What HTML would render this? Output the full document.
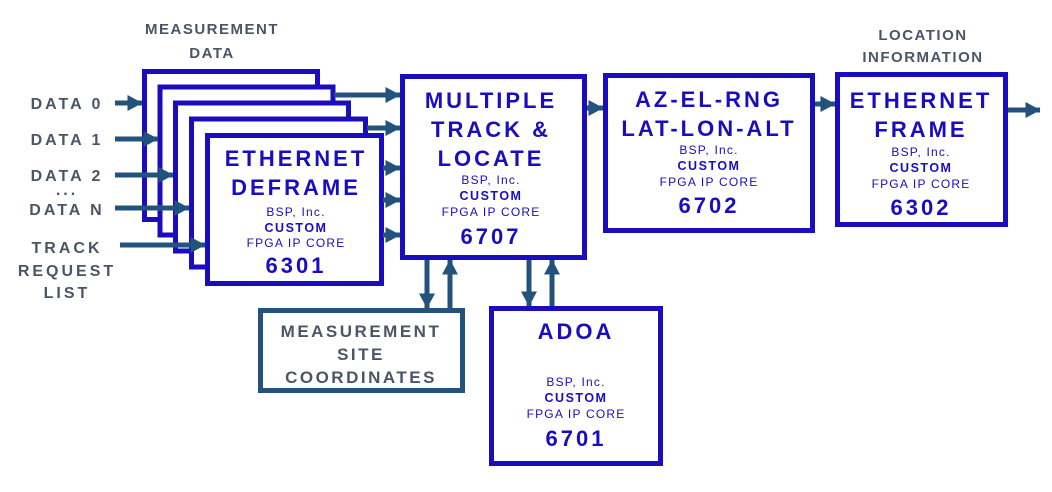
<!DOCTYPE html>
<html><head><meta charset="utf-8"><style>
html,body{margin:0;padding:0;background:#fff;}
text{font-family:"Liberation Sans",sans-serif;}
.g{fill:#4a5566;font-weight:bold;font-size:16px;letter-spacing:3px;}
.h{fill:#4a5566;font-weight:bold;font-size:15px;letter-spacing:1.5px;}
.m{fill:#4a5566;font-weight:bold;font-size:17px;letter-spacing:2.5px;}
.t{fill:#1a0dbf;font-weight:bold;font-size:22px;letter-spacing:3px;}
.s{fill:#1a0dbf;font-size:12px;letter-spacing:1.2px;}
.c{fill:#1a0dbf;font-weight:bold;font-size:12.5px;letter-spacing:1.5px;}
.n{fill:#1a0dbf;font-weight:bold;font-size:22px;letter-spacing:3px;}
</style></head><body>
<svg width="1052" height="487" viewBox="0 0 1052 487" xmlns="http://www.w3.org/2000/svg">
<defs><marker id="a" viewBox="0 0 15 16" markerWidth="15" markerHeight="16" refX="14.5" refY="8" orient="auto" markerUnits="userSpaceOnUse"><path d="M0,0 L15,8 L0,16z" fill="#23527c"/></marker></defs>
<g fill="#fff" stroke="#1a0dbf" stroke-width="5">
<rect x="144.5" y="71.5" width="173" height="148"/>
<rect x="160" y="87" width="173" height="148"/>
<rect x="175.5" y="103" width="173" height="148"/>
<rect x="191.5" y="119" width="174" height="148"/>
<rect x="207.5" y="135.5" width="174" height="148"/>
<rect x="402.5" y="76.5" width="182" height="181"/>
<rect x="605.5" y="75.5" width="207" height="155"/>
<rect x="837.5" y="74.5" width="168" height="150"/>
<rect x="491.5" y="308.5" width="169" height="155"/>
</g>
<rect x="260.5" y="310.5" width="202" height="80" fill="#fff" stroke="#23527c" stroke-width="5"/>
<g stroke="#23527c" stroke-width="5" marker-end="url(#a)" fill="none">
<line x1="115" y1="103" x2="142" y2="103"/>
<line x1="115" y1="139" x2="158" y2="139"/>
<line x1="115" y1="175" x2="173" y2="175"/>
<line x1="115" y1="208" x2="189" y2="208"/>
<line x1="120" y1="245" x2="205" y2="245"/>
<line x1="334" y1="95" x2="400" y2="95"/>
<line x1="367" y1="128" x2="400" y2="128"/>
<line x1="383" y1="168" x2="400" y2="168"/>
<line x1="383" y1="200" x2="400" y2="200"/>
<line x1="383" y1="235" x2="400" y2="235"/>
<line x1="587" y1="108" x2="603" y2="108"/>
<line x1="815" y1="104" x2="835" y2="104"/>
<line x1="1008" y1="110" x2="1040" y2="110"/>
<line x1="427" y1="260" x2="427" y2="308"/>
<line x1="450" y1="308" x2="450" y2="260"/>
<line x1="529" y1="260" x2="529" y2="306"/>
<line x1="552" y1="306" x2="552" y2="260"/>
</g>
<g text-anchor="middle">
<text class="h" x="212" y="34">MEASUREMENT</text><text class="h" x="212" y="58">DATA</text>
<text class="h" x="923" y="40">LOCATION</text><text class="h" x="923" y="62">INFORMATION</text>
<text class="g" x="67" y="109">DATA 0</text><text class="g" x="67" y="145">DATA 1</text>
<text class="g" x="67" y="181">DATA 2</text><text class="g" x="67" y="195">...</text><text class="g" x="67" y="215">DATA N</text>
<text class="g" x="67" y="253">TRACK</text><text class="g" x="67" y="276">REQUEST</text><text class="g" x="67" y="298">LIST</text>
<text class="m" x="361" y="337">MEASUREMENT</text><text class="m" x="361" y="360">SITE</text><text class="m" x="361" y="383">COORDINATES</text>
</g>
<g text-anchor="middle">
<text class="t" x="296" y="166">ETHERNET</text><text class="t" x="296" y="195">DEFRAME</text>
<text class="s" x="296" y="216">BSP, Inc.</text><text class="c" x="296" y="232">CUSTOM</text>
<text class="s" x="296" y="247">FPGA IP CORE</text><text class="n" x="296" y="273">6301</text>
<text class="t" x="491" y="108">MULTIPLE</text><text class="t" x="491" y="137">TRACK &amp;</text><text class="t" x="491" y="166">LOCATE</text>
<text class="s" x="491" y="184">BSP, Inc.</text><text class="c" x="491" y="200">CUSTOM</text>
<text class="s" x="491" y="216">FPGA IP CORE</text><text class="n" x="491" y="244">6707</text>
<text class="t" x="709" y="107">AZ-EL-RNG</text><text class="t" x="709" y="136">LAT-LON-ALT</text>
<text class="s" x="709" y="154">BSP, Inc.</text><text class="c" x="709" y="170">CUSTOM</text>
<text class="s" x="709" y="186">FPGA IP CORE</text><text class="n" x="709" y="213">6702</text>
<text class="t" x="921" y="108">ETHERNET</text><text class="t" x="921" y="137">FRAME</text>
<text class="s" x="921" y="156">BSP, Inc.</text><text class="c" x="921" y="172">CUSTOM</text>
<text class="s" x="921" y="188">FPGA IP CORE</text><text class="n" x="921" y="215">6302</text>
<text class="t" x="576" y="339">ADOA</text>
<text class="s" x="576" y="386">BSP, Inc.</text><text class="c" x="576" y="402">CUSTOM</text>
<text class="s" x="576" y="418">FPGA IP CORE</text><text class="n" x="576" y="446">6701</text>
</g>
</svg>
</body></html>
